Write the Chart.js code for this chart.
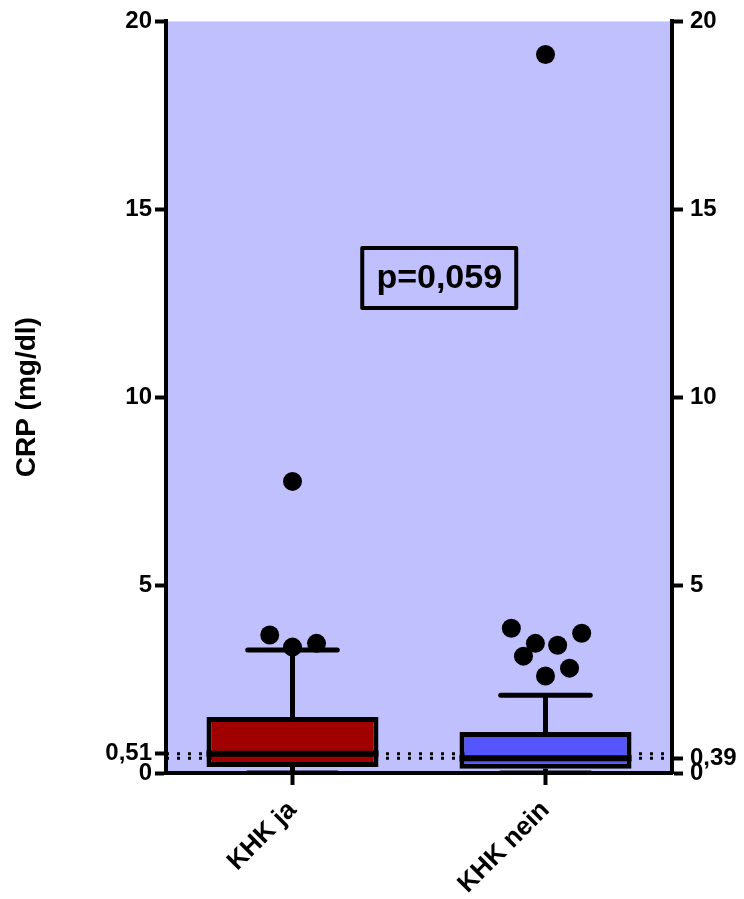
<!DOCTYPE html>
<html>
<head>
<meta charset="utf-8">
<script src="https://cdn.jsdelivr.net/npm/chart.js@4"></script>
<style>
  body { margin: 0; background: #fff; }
</style>
</head>
<body>
<canvas id="crpChart" width="744" height="899"></canvas>
<script>
const groups = ['KHK ja', 'KHK nein'];
const lowerQuartile = [0.16, 0.11];
const upperQuartile = [1.49, 1.09];
const medians = [0.51, 0.39];
const whiskerMin = [0, 0];
const whiskerMax = [3.27, 2.07];
const outliersJa = [3.67, 3.35, 3.45, 7.76];
const outliersNein = [3.85, 3.45, 3.11, 3.40, 3.72, 2.79, 2.58, 19.12];
const leftTicks = [0, 0.51, 5, 10, 15, 20];
const rightTicks = [0, 0.39, 5, 10, 15, 20];
const pLabel = 'p=0,059';

// horizontal spread of the outlier dots around each group centre
const jitterJa = [-0.09, 0, 0.095, 0];
const jitterNein = [-0.135, -0.04, -0.087, 0.048, 0.143, 0.095, 0, 0];

const boxColors = ['#a00000', '#5555ff'];
const font = { family: 'Liberation Sans, Arial, sans-serif', size: 24, weight: 'bold' };

function seg(x1, y1, x2, y2, extra) {
    return Object.assign({
        type: 'line',
        xAxisID: 'x2',
        yAxisID: 'y',
        data: [{ x: x1, y: y1 }, { x: x2, y: y2 }],
        borderColor: '#000',
        borderWidth: 5,
        pointRadius: 0,
        fill: false,
        order: 1
    }, extra || {});
}

const datasets = [];

// reference lines at the medians
medians.forEach(m => {
    datasets.push(seg(-0.5, m, 1.5, m, { borderWidth: 3, borderDash: [3, 8], order: 3 }));
});

datasets.push({
    type: 'bar',
    xAxisID: 'x',
    yAxisID: 'y',
    data: groups.map((g, i) => [lowerQuartile[i], upperQuartile[i]]),
    backgroundColor: boxColors,
    borderColor: '#000',
    borderWidth: 5,
    borderSkipped: false,
    grouped: false,
    barPercentage: 0.68,
    categoryPercentage: 1,
    order: 2
});

groups.forEach((g, i) => {
    datasets.push(seg(i, upperQuartile[i], i, whiskerMax[i]));
    datasets.push(seg(i, lowerQuartile[i], i, whiskerMin[i]));
    datasets.push(seg(i - 0.177, whiskerMax[i], i + 0.177, whiskerMax[i], { borderCapStyle: 'round' }));
    datasets.push(seg(i - 0.177, whiskerMin[i], i + 0.177, whiskerMin[i], { borderCapStyle: 'round' }));
    datasets.push(seg(i - 0.34, medians[i], i + 0.34, medians[i], { borderWidth: 6 }));
});

datasets.push({
    type: 'scatter',
    xAxisID: 'x2',
    yAxisID: 'y',
    data: outliersJa.map((v, k) => ({ x: 0 + jitterJa[k], y: v }))
        .concat(outliersNein.map((v, k) => ({ x: 1 + jitterNein[k], y: v }))),
    pointRadius: 9.5,
    pointBackgroundColor: '#000',
    pointBorderWidth: 0,
    order: 0
});

const plotBackground = {
    id: 'plotBackground',
    beforeDraw(chart) {
        const a = chart.chartArea;
        const ctx = chart.ctx;
        ctx.save();
        ctx.fillStyle = '#c0c0ff';
        ctx.fillRect(a.left, a.top, a.right - a.left, a.bottom - a.top);
        ctx.restore();
    }
};

const pValueBox = {
    id: 'pValueBox',
    afterDatasetsDraw(chart) {
        const ctx = chart.ctx;
        const cx = chart.scales.x2.getPixelForValue(0.58);
        const cy = chart.scales.y.getPixelForValue(13.17);
        ctx.save();
        ctx.lineWidth = 4;
        ctx.strokeStyle = '#000';
        ctx.lineJoin = 'round';
        ctx.strokeRect(cx - 77, cy - 30, 154, 60);
        ctx.fillStyle = '#000';
        ctx.font = 'bold 34px "Liberation Sans", Arial, sans-serif';
        ctx.textAlign = 'center';
        ctx.textBaseline = 'middle';
        ctx.fillText(pLabel, cx, cy + 1);
        ctx.restore();
    }
};

function axisY(position, tickList, width) {
    return {
        type: 'linear',
        position: position,
        min: 0,
        max: 20,
        afterBuildTicks: s => { s.ticks = tickList.map(v => ({ value: v })); },
        afterFit: s => { s.width = width; },
        ticks: {
            autoSkip: false,
            color: '#000',
            font: font,
            padding: position === 'left' ? 3 : 7,
            callback: v => String(v).replace('.', ',')
        },
        grid: { drawOnChartArea: false, drawTicks: true, tickLength: 11, tickWidth: 4, color: '#000' },
        border: { display: true, width: 4, color: '#000' }
    };
}

const yLeft = axisY('left', leftTicks, 166);
yLeft.title = { display: true, text: 'CRP (mg/dl)', color: '#000', font: { family: font.family, size: 28, weight: 'bold' }, padding: { top: 10, bottom: 0 } };

new Chart(document.getElementById('crpChart').getContext('2d'), {
    type: 'bar',
    data: { labels: groups, datasets: datasets },
    options: {
        responsive: false,
        animation: false,
        layout: { padding: { top: 20, right: 0, bottom: 0, left: 0 } },
        plugins: { legend: { display: false }, tooltip: { enabled: false } },
        scales: {
            x: {
                type: 'category',
                offset: true,
                afterFit: s => { s.height = 126; },
                ticks: { color: '#000', font: { family: font.family, size: 26, weight: 'bold' }, maxRotation: 45, minRotation: 45, padding: 10 },
                grid: { offset: false, drawOnChartArea: false, tickLength: 12, tickWidth: 4, color: '#000' },
                border: { display: true, width: 4, color: '#000' }
            },
            x2: { type: 'linear', min: -0.5, max: 1.5, offset: false, display: false },
            y: yLeft,
            y2: axisY('right', rightTicks, 72)
        }
    },
    plugins: [plotBackground, pValueBox]
});
</script>
</body>
</html>
